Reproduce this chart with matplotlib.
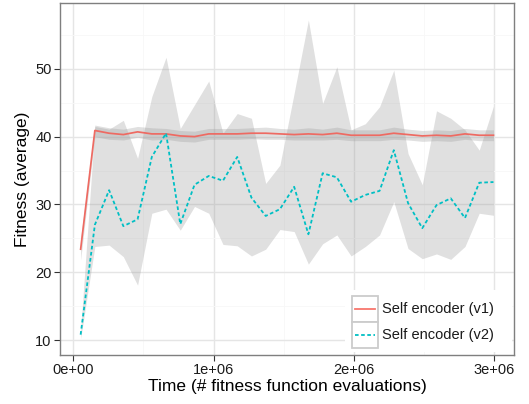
import matplotlib
matplotlib.use("Agg")
import matplotlib.pyplot as plt
from matplotlib.patches import Rectangle
from matplotlib.lines import Line2D
from matplotlib.ticker import FixedLocator

plt.rcParams['font.family'] = ['Liberation Sans', 'DejaVu Sans']

# evaluations at each sample
evals = [53000, 154400, 255800, 357200, 458600, 560000, 661400, 762800, 864200, 965600,
         1067000, 1168400, 1269800, 1371200, 1472600, 1574000, 1675400, 1776800, 1878200, 1979600,
         2081000, 2182400, 2283800, 2385200, 2486600, 2588000, 2689400, 2790800, 2892200, 2993600]

# Self encoder (v1)
v1_mean = [23.4, 40.9, 40.5, 40.3, 40.7, 40.4, 40.4, 40.1, 40.0, 40.4,
           40.4, 40.4, 40.5, 40.5, 40.4, 40.3, 40.4, 40.3, 40.5, 40.2,
           40.2, 40.2, 40.5, 40.3, 40.1, 40.2, 40.1, 40.4, 40.2, 40.2]
v1_lo = [21.8, 40.0, 39.6, 39.5, 39.9, 39.5, 39.6, 39.3, 39.2, 39.6,
         39.6, 39.6, 39.7, 39.6, 39.6, 39.5, 39.5, 39.5, 39.6, 39.4,
         39.4, 39.4, 39.6, 39.5, 39.3, 39.4, 39.3, 39.6, 39.4, 39.4]
v1_hi = [25.0, 41.7, 41.3, 41.1, 41.5, 41.3, 41.2, 40.9, 40.8, 41.2,
         41.2, 41.2, 41.3, 41.4, 41.2, 41.1, 41.3, 41.1, 41.4, 41.0,
         41.0, 41.0, 41.4, 41.1, 40.9, 41.0, 40.9, 41.2, 41.0, 41.0]

# Self encoder (v2)
v2_mean = [10.8, 27.0, 32.1, 26.8, 27.8, 37.0, 40.5, 27.1, 32.9, 34.2,
           33.5, 37.0, 31.0, 28.3, 29.3, 32.6, 25.6, 34.6, 34.0, 30.4,
           31.4, 32.0, 38.0, 30.2, 26.5, 29.9, 30.9, 28.0, 33.2, 33.3]
v2_lo = [10.2, 23.8, 24.0, 22.3, 18.1, 28.7, 29.3, 26.2, 29.7, 28.7,
         24.1, 23.9, 22.4, 23.4, 26.3, 26.0, 21.2, 24.2, 25.5, 22.4,
         23.8, 25.5, 30.4, 23.5, 22.0, 22.7, 21.9, 23.8, 28.7, 28.4]
v2_hi = [11.4, 41.5, 41.1, 42.4, 36.8, 45.9, 51.7, 41.2, 44.7, 48.2,
         40.5, 43.4, 42.7, 33.1, 35.8, 46.4, 57.2, 44.9, 50.3, 41.0,
         41.9, 44.4, 49.8, 37.5, 32.9, 43.8, 42.7, 41.0, 38.0, 44.5]

labels = ["Self encoder (v1)", "Self encoder (v2)"]
xticks = [0, 1e6, 2e6, 3e6]
xtick_labels = ["0e+00", "1e+06", "2e+06", "3e+06"]
yticks = [10, 20, 30, 40, 50]

red = "#F8766D"
cyan = "#00BFC4"

fig = plt.figure(figsize=(5.29, 4.04), dpi=100)
ax = fig.add_axes([60/529, 1 - 355/404, 454/529, 352/404])

ax.fill_between(evals, v1_lo, v1_hi, color="#999999", alpha=0.3, lw=0)
ax.fill_between(evals, v2_lo, v2_hi, color="#999999", alpha=0.3, lw=0)
ax.plot(evals, v1_mean, color="#EE6A62", lw=1.25)
ax.plot(evals, v2_mean, color=cyan, lw=1.3, dashes=(2.0, 1.4))

ax.set_xlim(-0.094e6, 3.14e6)
ax.set_ylim(7.8, 59.7)
ax.set_xticks(xticks)
ax.set_xticklabels(xtick_labels)
ax.set_yticks(yticks)
ax.xaxis.set_minor_locator(FixedLocator([0.5e6, 1.5e6, 2.5e6]))
ax.yaxis.set_minor_locator(FixedLocator([15, 25, 35, 45, 55]))
ax.grid(which="major", color="#E5E5E5", lw=1.0)
ax.grid(which="minor", color="#F7F7F7", lw=0.6)
ax.set_axisbelow(True)
ax.tick_params(which="major", length=4, width=0.8, color="#333333",
               labelsize=10.5, labelcolor="#1a1a1a", pad=2)
ax.tick_params(which="minor", length=0)
for s in ax.spines.values():
    s.set_color("#7f7f7f")
    s.set_linewidth(1.0)

ax.set_xlabel("Time (# fitness function evaluations)", fontsize=12.5, labelpad=1)
ax.set_ylabel("Fitness (average)", fontsize=12.5, labelpad=4)

# legend, ggplot style, inside bottom right
ax.add_patch(Rectangle((0.628, 0.008), 0.368, 0.177, transform=ax.transAxes,
                       facecolor="white", edgecolor="none", zorder=5))
rows = [(0.094, red, None), (0.020, cyan, (2.0, 1.4))]
for (y0, col, dsh), lab in zip(rows, labels):
    ax.add_patch(Rectangle((0.643, y0), 0.057, 0.074, transform=ax.transAxes,
                           facecolor="white", edgecolor="#CCCCCC", lw=1.3, zorder=6))
    ln = Line2D([0.650, 0.693], [y0 + 0.037] * 2, transform=ax.transAxes,
                color=col, lw=1.3, zorder=7)
    if dsh:
        ln.set_dashes(dsh)
    ax.add_line(ln)
    ax.text(0.709, y0 + 0.037, lab, transform=ax.transAxes, fontsize=10.5,
            va="center", ha="left", color="#1a1a1a", zorder=7)

fig.savefig("out.png", dpi=100)
